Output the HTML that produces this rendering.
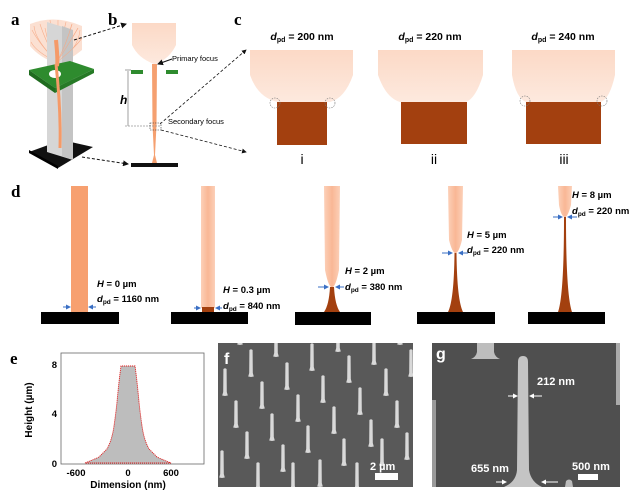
<!DOCTYPE html>
<html><head><meta charset="utf-8"><style>
html,body{margin:0;padding:0;background:#fff;}
svg{display:block;}
text{font-family:"Liberation Sans",Arial,sans-serif;}
.lab{font-family:"Liberation Serif",serif;font-weight:bold;font-size:17px;}
.t{font-size:10.5px;font-weight:bold;}
</style></head><body>
<svg width="640" height="496" viewBox="0 0 640 496" xmlns="http://www.w3.org/2000/svg">
<defs>
<linearGradient id="fan" x1="0" y1="0" x2="0" y2="1">
<stop offset="0" stop-color="#fcd9c6"/><stop offset="1" stop-color="#fde9de"/></linearGradient>
<linearGradient id="beamL" x1="0" y1="0" x2="1" y2="0">
<stop offset="0" stop-color="#fcd0b8"/><stop offset="0.5" stop-color="#f9b795"/><stop offset="1" stop-color="#fcd0b8"/></linearGradient>
<marker id="ah" markerWidth="6" markerHeight="6" refX="5" refY="3" orient="auto"><path d="M0,0 L6,3 L0,6z" fill="#111"/></marker>
<marker id="bh" markerWidth="5" markerHeight="5" refX="4" refY="2.5" orient="auto"><path d="M0,0 L5,2.5 L0,5z" fill="#3a6fc4"/></marker>
<marker id="wh" markerWidth="5" markerHeight="5" refX="4" refY="2.5" orient="auto"><path d="M0,0 L5,2.5 L0,5z" fill="#fff"/></marker>
<clipPath id="fclip"><rect x="218" y="343" width="195" height="144"/></clipPath>
</defs>

<text class="lab" x="11" y="25">a</text>
<text class="lab" x="108" y="25">b</text>
<text class="lab" x="234" y="25">c</text>
<text class="lab" x="11" y="197">d</text>
<text class="lab" x="10" y="364">e</text>

<!-- panel a -->
<polygon points="29,152 62,140 93,147 58,168" fill="#111"/>
<polygon points="29,150 58,166 58,169 29,153" fill="#000"/>
<path d="M30,24 Q55,14 82,26 L82,50 Q70,60 58,64 Q40,58 30,46 Z" fill="#fbe0d2"/>
<g stroke="#f6a985" stroke-width="0.6" fill="none" opacity="0.9">
<path d="M57,62 Q40,45 32,30"/><path d="M57,62 Q45,40 40,24"/><path d="M57,62 Q52,38 50,20"/>
<path d="M57,62 Q62,38 66,22"/><path d="M57,62 Q70,42 78,28"/><path d="M57,62 Q75,48 82,38"/>
<path d="M57,62 Q36,52 31,42"/><path d="M57,62 Q48,45 45,28"/><path d="M57,62 Q66,45 72,24"/>
<path d="M57,62 Q35,40 34,26"/><path d="M57,62 Q58,40 58,20"/><path d="M57,62 Q78,50 80,30"/>
</g>
<polygon points="47,22 73,30 73,160 47,152" fill="#d6d6d6"/>
<polygon points="62,26 73,30 73,160 62,156" fill="#c4c4c4"/>
<g stroke="#f6a985" stroke-width="0.6" fill="none" opacity="0.9">
<path d="M57,62 Q70,42 78,28"/><path d="M57,62 Q75,48 82,38"/><path d="M57,62 Q66,45 72,24"/>
</g>
<polygon points="29,70 70,61 94,69 55,88" fill="#2e8b2e"/>
<polygon points="29,70 55,88 55,93 29,75" fill="#1f6b1f"/>
<polygon points="55,88 94,69 94,73 55,93" fill="#267a26"/>
<ellipse cx="55" cy="74" rx="6" ry="4" fill="#fff"/>
<path d="M56,64 Q61,110 60,148" stroke="#f59a68" stroke-width="3" fill="none"/>
<path d="M56,40 Q58,60 57,66" stroke="#f59a68" stroke-width="4" fill="none"/>
<line x1="74" y1="40" x2="126" y2="24" stroke="#111" stroke-dasharray="3,2" marker-end="url(#ah)"/>
<line x1="82" y1="157" x2="128" y2="164" stroke="#111" stroke-dasharray="3,2" marker-end="url(#ah)"/>

<!-- panel b -->
<path d="M132,23 L176,23 L176,45 Q170,58 156,64 L154,64 Q138,58 132,45 Z" fill="url(#fan)"/>
<path d="M152,64 L157,64 L156.5,125 L155,155 L157,163 L152,163 L154,155 L152.5,125 Z" fill="#f5a070"/>
<rect x="131" y="70" width="12" height="4" fill="#2e8b2e"/>
<rect x="166" y="70" width="12" height="4" fill="#2e8b2e"/>
<rect x="131" y="163" width="47" height="4" fill="#111"/>
<line x1="128" y1="71" x2="128" y2="126" stroke="#888" stroke-width="0.8"/>
<line x1="125" y1="70" x2="131" y2="70" stroke="#888" stroke-width="0.8"/>
<line x1="125" y1="126" x2="160" y2="126" stroke="#999" stroke-width="0.8" stroke-dasharray="2,1"/>
<text x="120" y="104" font-size="12" font-weight="bold" font-style="italic">h</text>
<text x="172" y="61" font-size="7.5">Primary focus</text>
<line x1="172" y1="59" x2="158" y2="64" stroke="#111" marker-end="url(#ah)"/>
<text x="168" y="124" font-size="7.5">Secondary focus</text>
<rect x="150" y="123" width="11" height="7" fill="none" stroke="#333" stroke-width="0.6" stroke-dasharray="1.5,1"/>
<line x1="160" y1="124" x2="246" y2="50" stroke="#111" stroke-width="0.8" stroke-dasharray="3,2" marker-end="url(#ah)"/>
<line x1="161" y1="130" x2="246" y2="152" stroke="#111" stroke-width="0.8" stroke-dasharray="3,2" marker-end="url(#ah)"/>

<!-- panel c -->
<g>
<text class="t" x="302" y="40" text-anchor="middle"><tspan font-style="italic">d</tspan><tspan font-size="7" dy="2">pd</tspan><tspan dy="-2"> = 200 nm</tspan></text>
<path d="M250,50 L353,50 L353,75 Q345,98 330,102 L278,102 Q258,98 250,75 Z" fill="url(#fan)"/>
<rect x="277" y="102" width="50" height="43" fill="#a3400f"/>
<circle cx="275" cy="103" r="5" fill="none" stroke="#777" stroke-width="0.6" stroke-dasharray="1.5,1"/>
<circle cx="330" cy="103" r="5" fill="none" stroke="#777" stroke-width="0.6" stroke-dasharray="1.5,1"/>
<text x="302" y="164" font-family="Liberation Serif" font-size="14" text-anchor="middle">i</text>
</g>
<g>
<text class="t" x="430" y="40" text-anchor="middle"><tspan font-style="italic">d</tspan><tspan font-size="7" dy="2">pd</tspan><tspan dy="-2"> = 220 nm</tspan></text>
<path d="M378,50 L483,50 L483,75 Q476,98 466,102 L400,102 Q386,98 378,75 Z" fill="url(#fan)"/>
<rect x="401" y="102" width="66" height="42" fill="#a3400f"/>
<text x="434" y="164" font-family="Liberation Serif" font-size="14" text-anchor="middle">ii</text>
</g>
<g>
<text class="t" x="563" y="40" text-anchor="middle"><tspan font-style="italic">d</tspan><tspan font-size="7" dy="2">pd</tspan><tspan dy="-2"> = 240 nm</tspan></text>
<path d="M512,50 L615,50 L615,75 Q610,98 601,102 L526,102 Q516,98 512,75 Z" fill="url(#fan)"/>
<rect x="526" y="102" width="75" height="42" fill="#a3400f"/>
<circle cx="525" cy="101" r="5" fill="none" stroke="#777" stroke-width="0.6" stroke-dasharray="1.5,1"/>
<circle cx="602" cy="101" r="5" fill="none" stroke="#777" stroke-width="0.6" stroke-dasharray="1.5,1"/>
<text x="564" y="164" font-family="Liberation Serif" font-size="14" text-anchor="middle">iii</text>
</g>

<!-- panel d -->
<g font-size="9.5" font-weight="bold">
<rect x="71" y="186" width="17" height="126" fill="#f7a070"/>
<rect x="41" y="312" width="78" height="12" fill="#000"/>
<line x1="63" y1="307" x2="70" y2="307" stroke="#3a6fc4" marker-end="url(#bh)"/>
<line x1="96" y1="307" x2="89" y2="307" stroke="#3a6fc4" marker-end="url(#bh)"/>
<text x="97" y="287"><tspan font-style="italic">H</tspan> = 0 µm</text>
<text x="97" y="302"><tspan font-style="italic">d</tspan><tspan font-size="6.5" dy="2">pd</tspan><tspan dy="-2"> = 1160 nm</tspan></text>

<rect x="201" y="186" width="14" height="122" fill="url(#beamL)"/>
<rect x="202" y="307" width="12" height="5" fill="#a3400f"/>
<rect x="171" y="312" width="77" height="12" fill="#000"/>
<line x1="194" y1="308" x2="200" y2="308" stroke="#3a6fc4" marker-end="url(#bh)"/>
<line x1="222" y1="308" x2="216" y2="308" stroke="#3a6fc4" marker-end="url(#bh)"/>
<text x="223" y="293"><tspan font-style="italic">H</tspan> = 0.3 µm</text>
<text x="223" y="309"><tspan font-style="italic">d</tspan><tspan font-size="6.5" dy="2">pd</tspan><tspan dy="-2"> = 840 nm</tspan></text>

<path d="M324,186 L340,186 L339,270 Q336,285 333,287 L331,287 Q328,285 325,270 Z" fill="url(#beamL)"/>
<path d="M330,287 L334,287 Q335,305 340,312 L324,312 Q329,305 330,287 Z" fill="#a3400f"/>
<rect x="295" y="312" width="76" height="13" fill="#000"/>
<line x1="318" y1="287" x2="328" y2="287" stroke="#3a6fc4" marker-end="url(#bh)"/>
<line x1="344" y1="287" x2="336" y2="287" stroke="#3a6fc4" marker-end="url(#bh)"/>
<text x="345" y="274"><tspan font-style="italic">H</tspan> = 2 µm</text>
<text x="345" y="290"><tspan font-style="italic">d</tspan><tspan font-size="6.5" dy="2">pd</tspan><tspan dy="-2"> = 380 nm</tspan></text>

<path d="M448,186 L463,186 L462,240 Q459,252 456,253 L455,253 Q452,252 449,240 Z" fill="url(#beamL)"/>
<path d="M454.5,253 L456.5,253 Q457,300 463,312 L448,312 Q454,300 454.5,253 Z" fill="#a3400f"/>
<rect x="417" y="312" width="78" height="12" fill="#000"/>
<line x1="442" y1="253" x2="452" y2="253" stroke="#3a6fc4" marker-end="url(#bh)"/>
<line x1="468" y1="253" x2="459" y2="253" stroke="#3a6fc4" marker-end="url(#bh)"/>
<text x="467" y="238"><tspan font-style="italic">H</tspan> = 5 µm</text>
<text x="467" y="253"><tspan font-style="italic">d</tspan><tspan font-size="6.5" dy="2">pd</tspan><tspan dy="-2"> = 220 nm</tspan></text>

<path d="M558,186 L572,186 L571,205 Q568,216 565.5,217 L564.5,217 Q561,216 559,205 Z" fill="url(#beamL)"/>
<path d="M564,217 L566,217 Q566,295 572,312 L558,312 Q564,295 564,217 Z" fill="#a3400f"/>
<rect x="528" y="312" width="77" height="12" fill="#000"/>
<line x1="553" y1="217" x2="562" y2="217" stroke="#3a6fc4" marker-end="url(#bh)"/>
<line x1="577" y1="217" x2="568" y2="217" stroke="#3a6fc4" marker-end="url(#bh)"/>
<text x="572" y="198"><tspan font-style="italic">H</tspan> = 8 µm</text>
<text x="572" y="214"><tspan font-style="italic">d</tspan><tspan font-size="6.5" dy="2">pd</tspan><tspan dy="-2"> = 220 nm</tspan></text>
</g>

<!-- panel e -->
<rect x="61" y="353" width="143" height="111" fill="none" stroke="#666" stroke-width="0.8"/>
<path d="M85,463 Q95,459 99,457 Q104,452 107,449 Q112,440 114,426 Q116,412 117,402 Q119,380 121,366 L135,366 Q137,380 139,402 Q140,412 142,426 Q144,440 149,449 Q152,452 157,457 Q161,459 171,463 Z" fill="#bdbdbd" stroke="#e02020" stroke-width="0.9" stroke-dasharray="1.2,0.8"/>
<g font-size="9.5" font-weight="bold">
<text x="57" y="368" text-anchor="end">8</text>
<text x="57" y="417" text-anchor="end">4</text>
<text x="57" y="467" text-anchor="end">0</text>
<text x="76" y="476" text-anchor="middle">-600</text>
<text x="128" y="476" text-anchor="middle">0</text>
<text x="171" y="476" text-anchor="middle">600</text>
<text x="128" y="488" text-anchor="middle" font-size="10">Dimension  (nm)</text>
<text transform="translate(32,410) rotate(-90)" text-anchor="middle" font-size="10">Height (µm)</text>
</g>

<!-- panel f -->
<rect x="218" y="343" width="195" height="144" fill="#595959"/>
<g fill="#d9d9d9" clip-path="url(#fclip)">
<g transform="translate(276,357)"><path id="p" d="M0,0 L-2.8,-0.5 L-1.8,-4 L-1.6,-27 Q0,-28.5 1.6,-27 L1.8,-4 L2.8,-0.5 Z"/></g>
<use href="#p" transform="translate(240,345)"/>
<use href="#p" transform="translate(312,371)"/>
<use href="#p" transform="translate(338,352)"/>
<use href="#p" transform="translate(374,365)"/>
<use href="#p" transform="translate(400,345)"/>
<use href="#p" transform="translate(251,377)"/>
<use href="#p" transform="translate(287,390)"/>
<use href="#p" transform="translate(323,403)"/>
<use href="#p" transform="translate(349,383)"/>
<use href="#p" transform="translate(386,396)"/>
<use href="#p" transform="translate(411,377)"/>
<use href="#p" transform="translate(225,396)"/>
<use href="#p" transform="translate(262,409)"/>
<use href="#p" transform="translate(298,422)"/>
<use href="#p" transform="translate(334,434)"/>
<use href="#p" transform="translate(360,415)"/>
<use href="#p" transform="translate(397,428)"/>
<use href="#p" transform="translate(236,428)"/>
<use href="#p" transform="translate(272,441)"/>
<use href="#p" transform="translate(308,453)"/>
<use href="#p" transform="translate(344,466)"/>
<use href="#p" transform="translate(371,447)"/>
<use href="#p" transform="translate(407,460)"/>
<use href="#p" transform="translate(247,459)"/>
<use href="#p" transform="translate(283,472)"/>
<use href="#p" transform="translate(320,487)"/>
<use href="#p" transform="translate(222,478)"/>
<use href="#p" transform="translate(258,490)"/>
<use href="#p" transform="translate(293,490)"/>
<use href="#p" transform="translate(382,466)"/>
<use href="#p" transform="translate(357,490)"/>
</g>
<text x="224" y="364" font-family="Liberation Serif" font-weight="bold" font-size="16" fill="#fff">f</text>
<text x="370" y="470" font-size="11" font-weight="bold" fill="#fff">2 µm</text>
<rect x="375" y="473" width="23" height="7" fill="#fff"/>

<!-- panel g -->
<rect x="432" y="343" width="188" height="144" fill="#4f4f4f"/>
<path d="M477,343 L494,343 L494,352 Q495,357 500,359 L471,359 Q476,357 477,352 Z" fill="#bdbdbd"/>
<rect x="616" y="343" width="4" height="62" fill="#aaa"/>
<rect x="432" y="400" width="4" height="87" fill="#9a9a9a"/>
<path d="M518,362 Q518,356 523,356 Q528,356 528,362 L529,470 Q531,482 542,487 L504,487 Q516,482 517,470 Z" fill="#c4c4c4"/>
<path d="M565,487 L566,481 Q569,478 572,481 L573,487 Z" fill="#bbb"/>
<text x="436" y="359" font-family="Liberation Serif" font-weight="bold" font-size="16" fill="#fff">g</text>
<g font-size="11" font-weight="bold" fill="#fff">
<text x="537" y="385">212 nm</text>
<text x="471" y="472">655 nm</text>
<text x="572" y="470">500 nm</text>
</g>
<line x1="508" y1="396" x2="517" y2="396" stroke="#fff" marker-end="url(#wh)"/>
<line x1="542" y1="396" x2="530" y2="396" stroke="#fff" marker-end="url(#wh)"/>
<line x1="496" y1="482" x2="506" y2="482" stroke="#fff" marker-end="url(#wh)"/>
<line x1="558" y1="482" x2="542" y2="482" stroke="#fff" marker-end="url(#wh)"/>
<rect x="578" y="474" width="20" height="6" fill="#fff"/>
</svg>
</body></html>
